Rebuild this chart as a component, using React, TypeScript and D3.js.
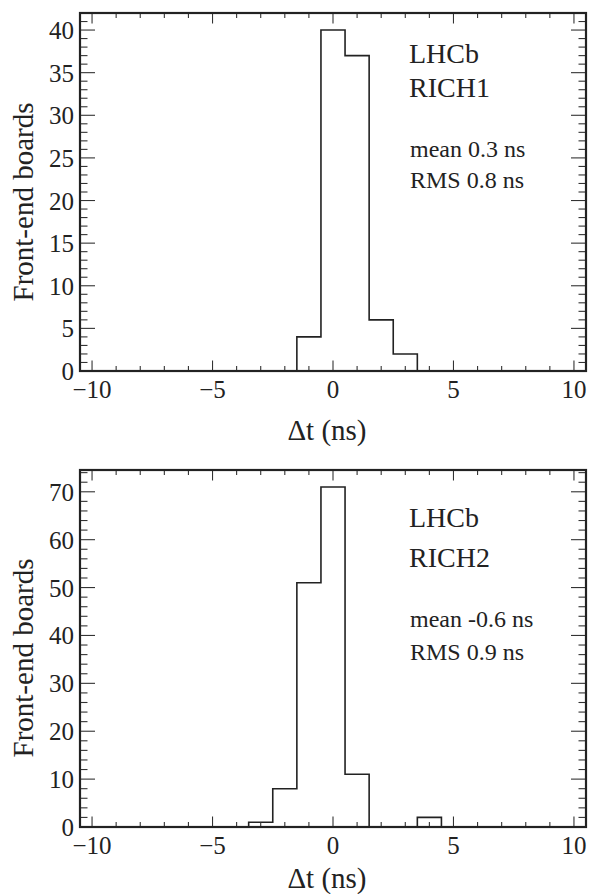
import React from "react";
import * as d3 from "d3";

// Bin centres (ns), 1 ns wide bins
const binCenters = [-10, -9, -8, -7, -6, -5, -4, -3, -2, -1, 0, 1, 2, 3, 4, 5, 6, 7, 8, 9, 10];
const rich1Counts = [0, 0, 0, 0, 0, 0, 0, 0, 0, 4, 40, 37, 6, 2, 0, 0, 0, 0, 0, 0, 0];
const rich2Counts = [0, 0, 0, 0, 0, 0, 0, 1, 8, 51, 71, 11, 0, 0, 2, 0, 0, 0, 0, 0, 0];

const xMajorTicks = [-10, -5, 0, 5, 10];
const xTickLabels = ["\u221210", "\u22125", "0", "5", "10"];
const yTopMajor = [0, 5, 10, 15, 20, 25, 30, 35, 40];
const yBotMajor = [0, 10, 20, 30, 40, 50, 60, 70];

const rich1Text = ["LHCb", "RICH1"];
const rich1Stats = ["mean 0.3 ns", "RMS 0.8 ns"];
const rich2Text = ["LHCb", "RICH2"];
const rich2Stats = ["mean -0.6 ns", "RMS 0.9 ns"];

const FONT = "Liberation Serif";
const INK = "#222";

type PanelProps = {
  counts: number[];
  yMax: number;
  yMajor: number[];
  yMinorStep: number;
  top: number;
  bottom: number;
  labels: string[];
  stats: string[];
  labelY: number[];
  statY: number[];
  xTitleY: number;
  yTitleCenter: number;
};

function T(props: any) {
  const { children, size, ...rest } = props;
  return (
    <text {...rest} fill={INK} style={{ fontFamily: FONT, fontSize: size + "px" }}>
      {children}
    </text>
  );
}

function Panel(p: PanelProps) {
  const left = 80;
  const right = 586;
  const x = d3.scaleLinear().domain([-10.5, 10.5]).range([left, right]);
  const y = d3.scaleLinear().domain([0, p.yMax]).range([p.bottom, p.top]);

  const xMinor = d3.range(-10, 10.001, 1).filter((v) => !xMajorTicks.includes(v));
  const yMinor = d3
    .range(0, p.yMax, p.yMinorStep)
    .filter((v) => !p.yMajor.includes(v) && v > 0);

  const pts: [number, number][] = binCenters.map((c, i) => [c - 0.5, p.counts[i]]);
  pts.push([binCenters[binCenters.length - 1] + 0.5, p.counts[p.counts.length - 1]]);
  const line = d3
    .line<[number, number]>()
    .x((d) => x(d[0]))
    .y((d) => y(d[1]))
    .curve(d3.curveStepAfter);

  const tickColor = "#333";
  const xMajLen = 10.5;
  const xMinLen = 5;
  const yMajLen = 15;
  const yMinLen = 7.5;

  return (
    <g>
      <path d={line(pts) || ""} fill="none" stroke={INK} strokeWidth={1.6} />
      {xMajorTicks.map((v) => (
        <g key={"xM" + v}>
          <line x1={x(v)} x2={x(v)} y1={p.bottom} y2={p.bottom - xMajLen} stroke={tickColor} strokeWidth={1.1} />
          <line x1={x(v)} x2={x(v)} y1={p.top} y2={p.top + xMajLen} stroke={tickColor} strokeWidth={1.1} />
        </g>
      ))}
      {xMinor.map((v) => (
        <g key={"xm" + v}>
          <line x1={x(v)} x2={x(v)} y1={p.bottom} y2={p.bottom - xMinLen} stroke={tickColor} strokeWidth={1.1} />
          <line x1={x(v)} x2={x(v)} y1={p.top} y2={p.top + xMinLen} stroke={tickColor} strokeWidth={1.1} />
        </g>
      ))}
      {p.yMajor.map((v) => (
        <g key={"yM" + v}>
          <line x1={left} x2={left + yMajLen} y1={y(v)} y2={y(v)} stroke={tickColor} strokeWidth={1.1} />
          <line x1={right} x2={right - yMajLen} y1={y(v)} y2={y(v)} stroke={tickColor} strokeWidth={1.1} />
        </g>
      ))}
      {yMinor.map((v) => (
        <g key={"ym" + v}>
          <line x1={left} x2={left + yMinLen} y1={y(v)} y2={y(v)} stroke={tickColor} strokeWidth={1.1} />
          <line x1={right} x2={right - yMinLen} y1={y(v)} y2={y(v)} stroke={tickColor} strokeWidth={1.1} />
        </g>
      ))}
      <rect x={left} y={p.top} width={right - left} height={p.bottom - p.top} fill="none" stroke={INK} strokeWidth={2.2} />
      {xMajorTicks.map((v, i) => (
        <T key={"xl" + v} x={x(v)} y={p.bottom + 27} textAnchor="middle" size={25}>
          {xTickLabels[i]}
        </T>
      ))}
      {p.yMajor.map((v) => (
        <T key={"yl" + v} x={74} y={y(v) + 9} textAnchor="end" size={25}>
          {v}
        </T>
      ))}
      <T x={327} y={p.xTitleY} textAnchor="middle" size={29}>
        {"\u0394t (ns)"}
      </T>
      <T transform={`translate(33,${p.yTitleCenter}) rotate(-90)`} textAnchor="middle" size={29}>
        Front-end boards
      </T>
      {p.labels.map((t, i) => (
        <T key={"lab" + i} x={409} y={p.labelY[i]} size={28}>
          {t}
        </T>
      ))}
      {p.stats.map((t, i) => (
        <T key={"st" + i} x={410} y={p.statY[i]} size={24}>
          {t}
        </T>
      ))}
    </g>
  );
}

export default function App() {
  return (
    <svg
      width={589}
      height={894}
      viewBox="0 0 589 894"
      style={{ position: "absolute", left: 0, top: 0, background: "#fff" }}
    >
      <rect x={0} y={0} width={589} height={894} fill="#fff" />
      <Panel
        counts={rich1Counts}
        yMax={42}
        yMajor={yTopMajor}
        yMinorStep={1}
        top={13}
        bottom={371}
        labels={rich1Text}
        stats={rich1Stats}
        labelY={[63, 97]}
        statY={[157, 188]}
        xTitleY={440}
        yTitleCenter={202}
      />
      <Panel
        counts={rich2Counts}
        yMax={74.55}
        yMajor={yBotMajor}
        yMinorStep={2}
        top={470}
        bottom={827}
        labels={rich2Text}
        stats={rich2Stats}
        labelY={[527, 567]}
        statY={[627, 660]}
        xTitleY={888}
        yTitleCenter={658}
      />
    </svg>
  );
}
